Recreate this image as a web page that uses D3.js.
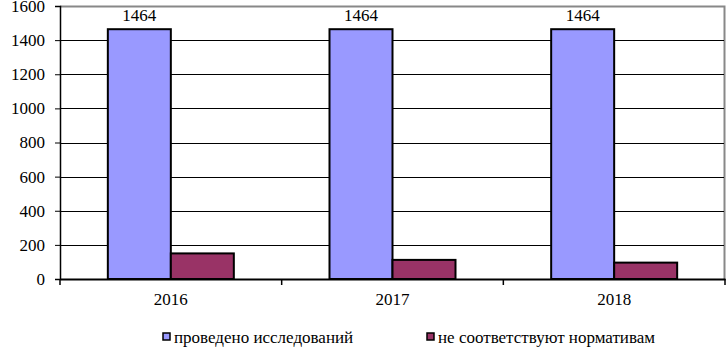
<!DOCTYPE html>
<html>
<head>
<meta charset="utf-8">
<script src="https://cdn.jsdelivr.net/npm/d3@7"></script>
<style>
  body { margin: 0; background: #fff; }
  svg text { font-family: "Liberation Serif", "DejaVu Serif", serif !important; fill: #000; }
</style>
</head>
<body>
<svg width="728" height="355"></svg>
<script>
const years = ['2016', '2017', '2018'];
const seriesNames = ['проведено исследований', 'не соответствуют нормативам'];
const studies = [1464, 1464, 1464];
const nonCompliant = [150, 112, 96];
const yTicks = [0, 200, 400, 600, 800, 1000, 1200, 1400, 1600];
const colors = ['#9999ff', '#993366'];

const svg = d3.select('svg');
const margin = {top: 6, left: 60, right: 3, bottom: 76};
const WIDTH = +svg.attr('width');
const HEIGHT = +svg.attr('height');
const width = WIDTH - margin.left - margin.right;
const height = HEIGHT - margin.top - margin.bottom;
const FONT = '"Liberation Serif", serif';

const data = years.map((y, i) => ({year: y, values: [studies[i], nonCompliant[i]]}));

const xScale = d3.scaleBand().domain(years).range([0, width]);
const xInner = d3.scaleBand().domain([0, 1]).range([0, 126]);
const yScale = d3.scaleLinear().domain([0, 1600]).range([height, 0]);

const g = svg.append('g')
    .attr('transform', 'translate(' + margin.left + ',' + margin.top + ')');

// plot area frame (gray top/right)
g.append('path')
    .attr('d', 'M0,0.5H' + (width - 0.5) + 'V' + height)
    .attr('fill', 'none')
    .attr('stroke', '#888')
    .attr('stroke-width', 2);

// gridlines
g.selectAll('.grid')
    .data(yTicks.filter(t => t > 0 && t < 1600))
    .enter().append('line')
    .attr('x1', 0).attr('x2', width - 1)
    .attr('y1', d => Math.round(yScale(d)) + 0.5)
    .attr('y2', d => Math.round(yScale(d)) + 0.5)
    .attr('stroke', '#000').attr('stroke-width', 1.2);

// bars
const groups = g.selectAll('.grp')
    .data(data)
    .enter().append('g')
    .attr('transform', d => 'translate(' + (xScale(d.year) + (xScale.bandwidth() - 126) / 2) + ',0)');

groups.selectAll('rect')
    .data(d => d.values.map((v, i) => ({v, i})))
    .enter().append('rect')
    .attr('x', d => xInner(d.i))
    .attr('y', d => yScale(d.v))
    .attr('width', xInner.bandwidth())
    .attr('height', d => height - yScale(d.v))
    .attr('fill', d => colors[d.i])
    .attr('stroke', '#000')
    .attr('stroke-width', 2);

// data labels for first series
groups.append('text')
    .attr('x', xInner(0) + xInner.bandwidth() / 2)
    .attr('y', d => yScale(d.values[0]) - 8)
    .attr('text-anchor', 'middle')
    .attr('font-family', FONT)
    .style('font-size', '17px')
    .text(d => d.values[0]);

// y axis
const yAxis = d3.axisLeft(yScale).tickValues(yTicks).tickFormat(d3.format('d'))
    .tickSize(5).tickPadding(10);
const ya = g.append('g').attr('font-family', FONT).call(yAxis);
ya.attr('font-family', FONT);
ya.select('.domain').attr('stroke', '#000').attr('stroke-width', 1.5);
ya.selectAll('line').attr('stroke', '#000');
ya.selectAll('text').style('font-size', '17px');

// x axis
const xAxis = d3.axisBottom(xScale).tickSize(0).tickPadding(14);
const xa = g.append('g').attr('transform', 'translate(0,' + height + ')').call(xAxis);
xa.attr('font-family', FONT);
xa.select('.domain').attr('stroke', '#000').attr('stroke-width', 2);
xa.selectAll('text').style('font-size', '17px');
// category separators
xa.selectAll('.sep')
    .data([0].concat(years.map(y => xScale(y) + xScale.bandwidth())))
    .enter().append('line')
    .attr('x1', d => d).attr('x2', d => d)
    .attr('y1', 0).attr('y2', 6)
    .attr('stroke', '#000').attr('stroke-width', 1.5);

// legend
const legendX = [163, 427];
const legend = svg.append('g').attr('transform', 'translate(0,343)').attr('font-family', FONT);
seriesNames.forEach((name, i) => {
    legend.append('rect')
        .attr('x', legendX[i]).attr('y', -10)
        .attr('width', 7).attr('height', 7)
        .attr('fill', colors[i])
        .attr('stroke', '#000').attr('stroke-width', 1.5);
    legend.append('text')
        .attr('x', legendX[i] + 11).attr('y', 0)
        .style('font-size', '17px')
        .text(name);
});
</script>
</body>
</html>
